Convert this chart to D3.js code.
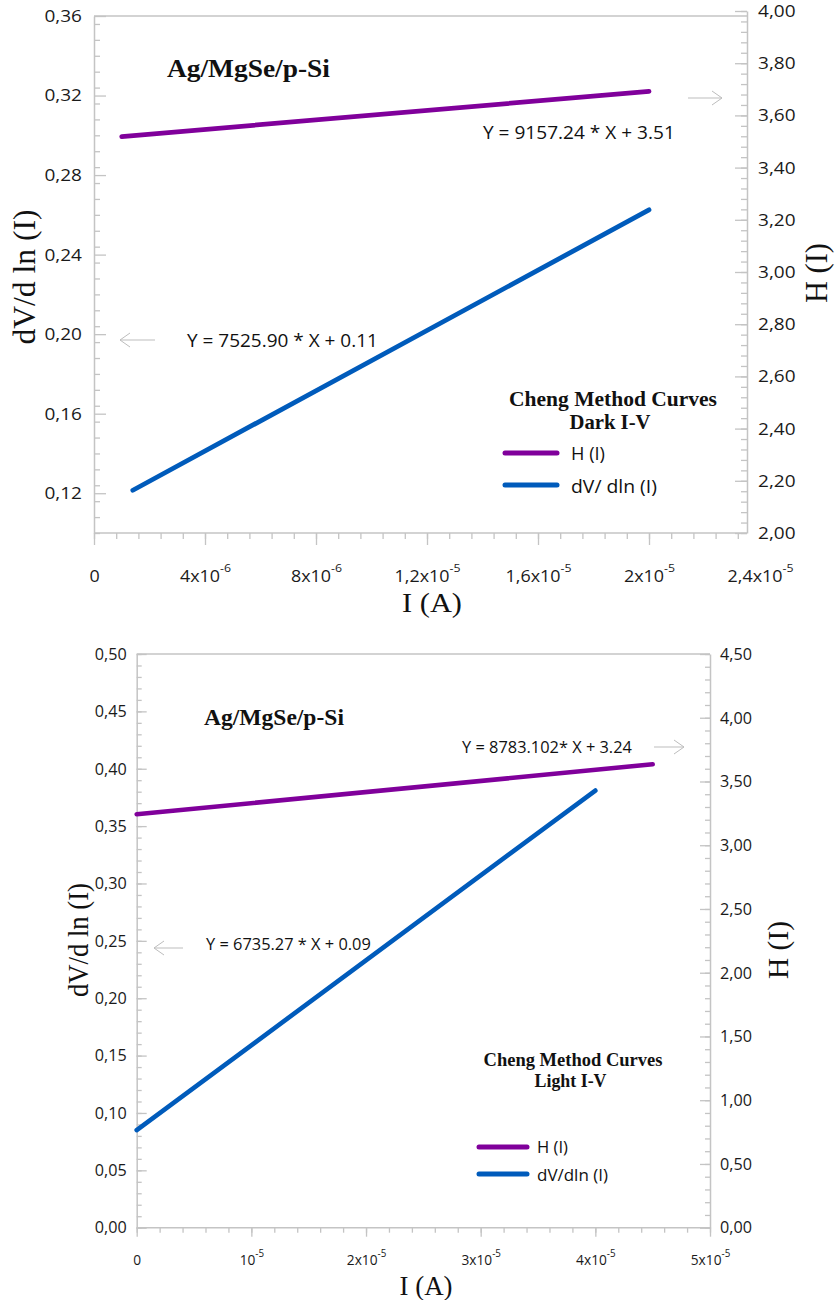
<!DOCTYPE html>
<html>
<head>
<meta charset="utf-8">
<script src="https://cdn.jsdelivr.net/npm/d3@7"></script>
<style>
  body { margin: 0; background: #fff; }
</style>
</head>
<body>
<svg id="fig" width="837" height="1300"></svg>
<script>
// ---------- Dark I-V panel data ----------
const darkH  = [[1.0e-6, 3.519], [2.0e-5, 3.692]];     // H(I) vs I (right axis)
const darkDV = [[1.4e-6, 0.1215], [2.0e-5, 0.2625]];   // dV/dln(I) vs I (left axis)
const darkLeftTicks  = [0.12, 0.16, 0.20, 0.24, 0.28, 0.32, 0.36];
const darkRightTicks = [2.0, 2.2, 2.4, 2.6, 2.8, 3.0, 3.2, 3.4, 3.6, 3.8, 4.0];
const darkXTicks  = [0, 4e-6, 8e-6, 1.2e-5, 1.6e-5, 2.0e-5, 2.4e-5];
const darkXLabels = [["0", ""], ["4x10", "-6"], ["8x10", "-6"], ["1,2x10", "-5"],
                     ["1,6x10", "-5"], ["2x10", "-5"], ["2,4x10", "-5"]];
const darkFits    = ["Y = 9157.24 * X + 3.51", "Y = 7525.90 * X + 0.11"];
const darkLegend  = ["H (I)", "dV/ dln (I)"];

// ---------- Light I-V panel data ----------
const lightH  = [[0, 3.243], [4.5e-5, 3.635]];
const lightDV = [[0, 0.085], [4.0e-5, 0.381]];
const lightLeftTicks  = [0, 0.05, 0.10, 0.15, 0.20, 0.25, 0.30, 0.35, 0.40, 0.45, 0.50];
const lightRightTicks = [0, 0.5, 1.0, 1.5, 2.0, 2.5, 3.0, 3.5, 4.0, 4.5];
const lightXTicks  = [0, 1e-5, 2e-5, 3e-5, 4e-5, 5e-5];
const lightXLabels = [["0", ""], ["10", "-5"], ["2x10", "-5"], ["3x10", "-5"],
                      ["4x10", "-5"], ["5x10", "-5"]];
const lightFits    = ["Y = 8783.102* X + 3.24", "Y = 6735.27 * X + 0.09"];
const lightLegend  = ["H (I)", "dV/dln (I)"];

const SERIF = "'Liberation Serif', 'Times New Roman', serif";
const SANS  = "'Open Sans', 'Noto Sans', sans-serif";
const PURPLE = "#80009b";
const BLUE   = "#005bbb";
const AXIS   = "#c4c4c4";
const ARROW  = "#bdbdbd";

const svg = d3.select("#fig");
svg.append("rect").attr("width", 837).attr("height", 1300).attr("fill", "#fff");

// Text helper: font-size sets glyph height, width (or k) sets horizontal scale
function label(parent, s, x, y, o) {
  const t = parent.append("text")
    .attr("font-family", o.serif ? SERIF : SANS)
    .attr("font-size", o.size)
    .attr("font-weight", o.bold ? "bold" : null)
    .attr("text-anchor", o.anchor || "start")
    .attr("fill", "#111")
    .text(s);
  let k = o.k || 1;
  if (o.width) k = o.width / t.node().getComputedTextLength();
  t.attr("transform", `translate(${x},${y})${o.rotate ? " rotate(-90)" : ""} scale(${k},1)`);
  return t;
}

function arrow(parent, x1, x2, y) {
  const dir = Math.sign(x2 - x1);
  parent.append("path")
    .attr("d", `M${x1},${y}L${x2},${y}M${x2 - dir * 10},${y - 7}L${x2},${y}L${x2 - dir * 10},${y + 7}`)
    .attr("fill", "none").attr("stroke", ARROW).attr("stroke-width", 1);
}

function styleAxis(g, size, k) {
  g.attr("font-family", SANS).attr("font-size", size);
  g.selectAll(".tick line").attr("stroke", AXIS).attr("stroke-width", 1.3);
  g.selectAll(".domain").attr("stroke", AXIS).attr("stroke-width", 1.5);
  g.selectAll(".tick text").attr("fill", "#1a1a1a").each(function () {
    const t = d3.select(this);
    const x0 = +t.attr("x") || 0;
    t.attr("x", 0).attr("transform", `translate(${x0},0) scale(${k},1)`);
  });
}

const fmt2 = d => d.toFixed(2).replace(".", ",");

function panel(c) {
  const g = svg.append("g");
  const x  = d3.scaleLinear().domain(c.xDomain).range(c.xRange);
  const yL = d3.scaleLinear().domain(c.yLDomain).range([c.bottom, c.top]);
  const yR = d3.scaleLinear().domain(c.yRDomain).range([c.bottom, c.rTop]);

  // frame top edge
  g.append("line").attr("x1", c.left).attr("x2", c.right)
    .attr("y1", c.top).attr("y2", c.top)
    .attr("stroke", AXIS).attr("stroke-width", 1.5);

  // left axis: minor then major ticks (inward)
  const lMin = g.append("g").attr("transform", `translate(${c.left},0)`)
    .call(d3.axisLeft(yL).tickValues(c.yLMinor).tickSize(-c.minorLen).tickSizeOuter(0).tickFormat(""));
  lMin.select(".domain").remove(); styleAxis(lMin, c.tickSize, c.k);
  const lMaj = g.append("g").attr("transform", `translate(${c.left},0)`)
    .call(d3.axisLeft(yL).tickValues(c.yLTicks).tickSize(-c.majorLen).tickSizeOuter(0)
      .tickPadding(c.padL).tickFormat(fmt2));
  styleAxis(lMaj, c.tickSize, c.k);

  // right axis
  const rMin = g.append("g").attr("transform", `translate(${c.right},0)`)
    .call(d3.axisRight(yR).tickValues(c.yRMinor).tickSize(-c.minorLen).tickSizeOuter(0).tickFormat(""));
  rMin.select(".domain").remove(); styleAxis(rMin, c.tickSize, c.k);
  const rMaj = g.append("g").attr("transform", `translate(${c.right},0)`)
    .call(d3.axisRight(yR).tickValues(c.yRTicks).tickSize(-c.majorLen).tickSizeOuter(0)
      .tickPadding(c.padR).tickFormat(fmt2));
  styleAxis(rMaj, c.tickSize, c.k);

  // bottom axis (outward ticks), clipped at the right frame edge
  const xMinor = c.xMinor.filter(v => x(v) <= c.right + 0.5);
  const bMin = g.append("g").attr("transform", `translate(0,${c.bottom})`)
    .call(d3.axisBottom(x).tickValues(xMinor).tickSize(c.xMinorLen).tickSizeOuter(0).tickFormat(""));
  bMin.select(".domain").remove(); styleAxis(bMin, c.tickSize, c.k);
  const bMaj = g.append("g").attr("transform", `translate(0,${c.bottom})`)
    .call(d3.axisBottom(x).tickValues(c.xTicks).tickSize(c.xMajorLen).tickSizeOuter(0)
      .tickFormat((d, i) => i));
  bMaj.select(".domain").remove();
  bMaj.selectAll(".tick").filter(d => x(d) > c.right + 0.5).select("line").remove();
  bMaj.selectAll(".tick text").each(function (d, i) {
    const t = d3.select(this).text(null).attr("y", c.xLabelY).attr("dy", null);
    const [base, sup] = c.xLabels[i];
    t.append("tspan").text(base);
    if (sup) t.append("tspan").attr("dy", c.supDy).attr("font-size", c.supSize).text(sup);
  });
  styleAxis(bMaj, c.xTickSize, c.k);
  g.append("line").attr("x1", c.left).attr("x2", c.right)
    .attr("y1", c.bottom).attr("y2", c.bottom)
    .attr("stroke", AXIS).attr("stroke-width", 1.5);

  // series
  const lineL = d3.line().x(d => x(d[0])).y(d => yL(d[1]));
  const lineR = d3.line().x(d => x(d[0])).y(d => yR(d[1]));
  g.append("path").datum(c.hData).attr("d", lineR)
    .attr("fill", "none").attr("stroke", PURPLE).attr("stroke-width", c.lineW).attr("stroke-linecap", "round");
  g.append("path").datum(c.dvData).attr("d", lineL)
    .attr("fill", "none").attr("stroke", BLUE).attr("stroke-width", c.lineW).attr("stroke-linecap", "round");

  // annotations
  label(g, "Ag/MgSe/p-Si", c.title.x, c.title.y, { serif: true, bold: true, size: c.title.size, width: c.title.w });
  label(g, c.fits[0], c.fitH.x, c.fitH.y, { size: c.fitSize, width: c.fitH.w });
  label(g, c.fits[1], c.fitDV.x, c.fitDV.y, { size: c.fitSize, width: c.fitDV.w });
  arrow(g, c.arrowR[0], c.arrowR[1], c.arrowR[2]);
  arrow(g, c.arrowL[0], c.arrowL[1], c.arrowL[2]);

  // legend
  label(g, "Cheng Method Curves", c.leg.cx, c.leg.y1, { serif: true, bold: true, size: c.leg.size, anchor: "middle", width: c.leg.w1 });
  label(g, c.legSub, c.leg.cx2, c.leg.y2, { serif: true, bold: true, size: c.leg.size, anchor: "middle", width: c.leg.w2 });
  [PURPLE, BLUE].forEach((col, i) => {
    const ly = c.leg.ly[i];
    g.append("line").attr("x1", c.leg.lx[0]).attr("x2", c.leg.lx[1]).attr("y1", ly).attr("y2", ly)
      .attr("stroke", col).attr("stroke-width", 5).attr("stroke-linecap", "round");
    label(g, c.legend[i], c.leg.tx, c.leg.ty[i], { size: c.leg.tsize, width: c.leg.tw[i] });
  });

  // axis titles
  label(g, "dV/d ln (I)", c.yLTitle.x, c.yLTitle.y, { serif: true, size: c.yLTitle.size, anchor: "middle", rotate: true, width: c.yLTitle.w });
  label(g, "H (I)", c.yRTitle.x, c.yRTitle.y, { serif: true, size: c.yRTitle.size, anchor: "middle", rotate: true, width: c.yRTitle.w });
  label(g, "I (A)", c.xTitle.x, c.xTitle.y, { serif: true, size: c.xTitle.size, anchor: "middle", width: c.xTitle.w });
}

panel({
  left: 94, right: 747, top: 16, rTop: 11, bottom: 533,
  xDomain: [0, 2.4e-5], xRange: [94, 760],
  yLDomain: [0.10, 0.36], yRDomain: [2, 4],
  yLTicks: darkLeftTicks, yRTicks: darkRightTicks, xTicks: darkXTicks, xLabels: darkXLabels,
  yLMinor: d3.range(0, 33).map(i => 0.10 + i * 0.008),
  yRMinor: d3.range(0, 51).map(i => 2 + i * 0.04),
  xMinor: d3.range(0, 31).map(i => i * 8e-7),
  minorLen: 6, majorLen: 12, xMinorLen: 6, xMajorLen: 12,
  padL: 12, padR: 11, tickSize: 17, xTickSize: 16, k: 1.12,
  xLabelY: 49, supDy: -10, supSize: 11,
  hData: darkH, dvData: darkDV, lineW: 4.8, fits: darkFits, legend: darkLegend, legSub: "Dark I-V",
  title: { x: 167, y: 77, size: 25, w: 163 },
  fitSize: 18, fitH: { x: 483, y: 139, w: 192 }, fitDV: { x: 187, y: 347, w: 191 },
  arrowR: [688, 722, 98], arrowL: [155, 120, 340],
  leg: { cx: 613, cx2: 610, y1: 406, y2: 429, size: 20, w1: 208, w2: 81,
         lx: [505, 557], ly: [453, 485], tx: 571, ty: [460, 493], tsize: 19, tw: [34, 86] },
  yLTitle: { x: 35, y: 277, size: 32, w: 135 },
  yRTitle: { x: 827, y: 273, size: 31, w: 60 },
  xTitle: { x: 432, y: 612, size: 27, w: 60 }
});

panel({
  left: 136.7, right: 710, top: 654, rTop: 654, bottom: 1227.7,
  xDomain: [0, 5e-5], xRange: [136.7, 710],
  yLDomain: [0, 0.5], yRDomain: [0, 4.5],
  yLTicks: lightLeftTicks, yRTicks: lightRightTicks, xTicks: lightXTicks, xLabels: lightXLabels,
  yLMinor: d3.range(0, 51).map(i => i * 0.01),
  yRMinor: d3.range(0, 46).map(i => i * 0.1),
  xMinor: d3.range(0, 26).map(i => i * 2e-6),
  minorLen: 5, majorLen: 10, xMinorLen: 5, xMajorLen: 9,
  padL: 10, padR: 10, tickSize: 16.5, xTickSize: 14, k: 0.98,
  xLabelY: 37, supDy: -8, supSize: 10,
  hData: lightH, dvData: lightDV, lineW: 4.6, fits: lightFits, legend: lightLegend, legSub: "Light I-V",
  title: { x: 204, y: 725, size: 24, w: 140 },
  fitSize: 17, fitH: { x: 462, y: 753, w: 170 }, fitDV: { x: 206, y: 950, w: 165 },
  arrowR: [654, 684, 747], arrowL: [183, 154, 948],
  leg: { cx: 573, cx2: 570.5, y1: 1066, y2: 1087, size: 18.5, w1: 179, w2: 72,
         lx: [479, 527], ly: [1147, 1174], tx: 537, ty: [1153, 1181], tsize: 16, tw: [31, 71] },
  yLTitle: { x: 88, y: 940, size: 29, w: 114 },
  yRTitle: { x: 788, y: 950, size: 29, w: 58 },
  xTitle: { x: 426, y: 1295, size: 27, w: 53 }
});
</script>
</body>
</html>
